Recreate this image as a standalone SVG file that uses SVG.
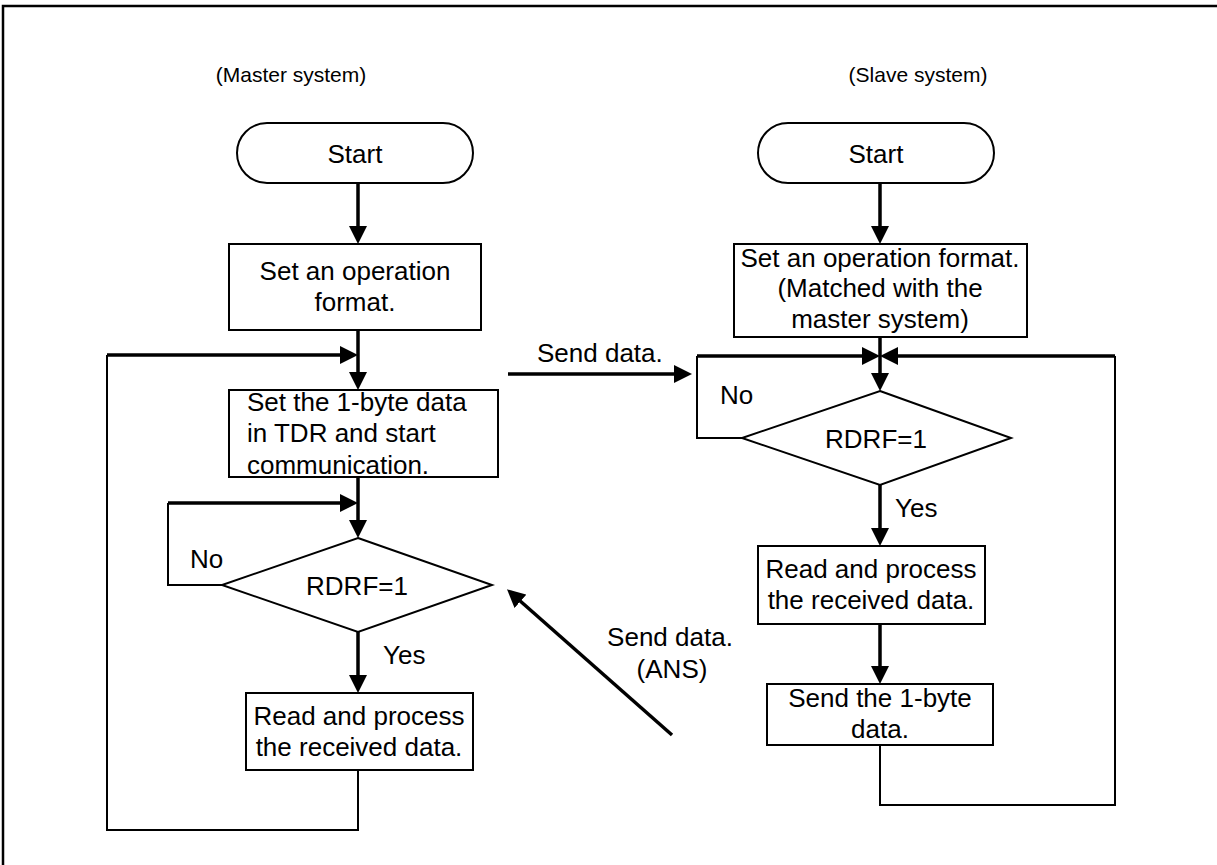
<svg xmlns="http://www.w3.org/2000/svg" width="1217" height="865" viewBox="0 0 1217 865">
<style>
  text { font-family: "Liberation Sans", Arial, sans-serif; font-size: 26px; fill: #000; }
  .c { text-anchor: middle; }
  .h { font-size: 21px; }
  .box { fill: #fff; stroke: #000; stroke-width: 2; }
  .thin { fill: none; stroke: #000; stroke-width: 2; }
  .thick { fill: none; stroke: #000; stroke-width: 3.5; }
  .frame { fill: none; stroke: #000; stroke-width: 2.5; }
</style>
<defs>
  <marker id="ah" markerUnits="userSpaceOnUse" markerWidth="18" markerHeight="18" refX="14" refY="9" orient="auto">
    <path d="M0,0 L18,9 L0,18 z" fill="#000"/>
  </marker>
</defs>
<rect width="1217" height="865" fill="#fff"/>
<rect class="frame" x="3" y="6" width="1240" height="900"/>

<text class="c h" x="291" y="82">(Master system)</text>
<text class="c h" x="918" y="82">(Slave system)</text>

<g id="connectors">
  <path class="thick" d="M358,183 V240" marker-end="url(#ah)"/>
  <path class="thick" d="M358,330 V386" marker-end="url(#ah)"/>
  <path class="thin" d="M358,770 V830 H107 V355"/>
  <path class="thick" d="M107,355 H354" marker-end="url(#ah)"/>
  <path class="thick" d="M358,477 V534" marker-end="url(#ah)"/>
  <path class="thin" d="M222,585 H168 V503"/>
  <path class="thick" d="M168,503 H354" marker-end="url(#ah)"/>
  <path class="thick" d="M358,632 V689" marker-end="url(#ah)"/>

  <path class="thick" d="M880,183 V240" marker-end="url(#ah)"/>
  <path class="thick" d="M880,337 V387" marker-end="url(#ah)"/>
  <path class="thin" d="M742,438 H697 V356"/>
  <path class="thick" d="M697,356 H876" marker-end="url(#ah)"/>
  <path class="thick" d="M880,485 V542" marker-end="url(#ah)"/>
  <path class="thick" d="M880,624 V680" marker-end="url(#ah)"/>
  <path class="thin" d="M880,745 V805 H1115 V356"/>
  <path class="thick" d="M1115,356 H884" marker-end="url(#ah)"/>

  <path class="thick" d="M508,374 H688" marker-end="url(#ah)"/>
  <path class="thick" d="M672,735 L510,592" marker-end="url(#ah)"/>

  <text x="537" y="362">Send data.</text>
  <text class="c" x="670" y="646">Send data.</text>
  <text class="c" x="672" y="678">(ANS)</text>
  <text x="190" y="568">No</text>
  <text x="383" y="664">Yes</text>
  <text x="720" y="404">No</text>
  <text x="895" y="517">Yes</text>
</g>

<g id="m_start">
  <rect class="box" x="237" y="123" width="236" height="60" rx="30" ry="30"/>
  <text class="c" x="355" y="163">Start</text>
</g>
<g id="m_set_format">
  <rect class="box" x="229" y="244" width="252" height="86"/>
  <text class="c" x="355" y="280">Set an operation</text>
  <text class="c" x="355" y="311">format.</text>
</g>
<g id="m_set_tdr">
  <rect class="box" x="229" y="390" width="269" height="87"/>
  <text x="247" y="411">Set the 1-byte data</text>
  <text x="247" y="442">in TDR and start</text>
  <text x="247" y="474">communication.</text>
</g>
<g id="m_rdrf">
  <polygon class="box" points="358,538 492,585 358,632 222,585"/>
  <text class="c" x="357" y="595">RDRF=1</text>
</g>
<g id="m_read">
  <rect class="box" x="246" y="693" width="227" height="77"/>
  <text class="c" x="359" y="725">Read and process</text>
  <text class="c" x="359" y="756">the received data.</text>
</g>

<g id="s_start">
  <rect class="box" x="758" y="123" width="236" height="60" rx="30" ry="30"/>
  <text class="c" x="876" y="163">Start</text>
</g>
<g id="s_set_format">
  <rect class="box" x="734" y="244" width="293" height="93"/>
  <text class="c" x="880" y="267">Set an operation format.</text>
  <text class="c" x="880" y="297">(Matched with the</text>
  <text class="c" x="880" y="328">master system)</text>
</g>
<g id="s_rdrf">
  <polygon class="box" points="880,391 1011,438 880,485 742,438"/>
  <text class="c" x="876" y="448">RDRF=1</text>
</g>
<g id="s_read">
  <rect class="box" x="758" y="546" width="227" height="78"/>
  <text class="c" x="871" y="578">Read and process</text>
  <text class="c" x="871" y="609">the received data.</text>
</g>
<g id="s_send">
  <rect class="box" x="767" y="684" width="226" height="61"/>
  <text class="c" x="880" y="707">Send the 1-byte</text>
  <text class="c" x="880" y="738">data.</text>
</g>
</svg>
